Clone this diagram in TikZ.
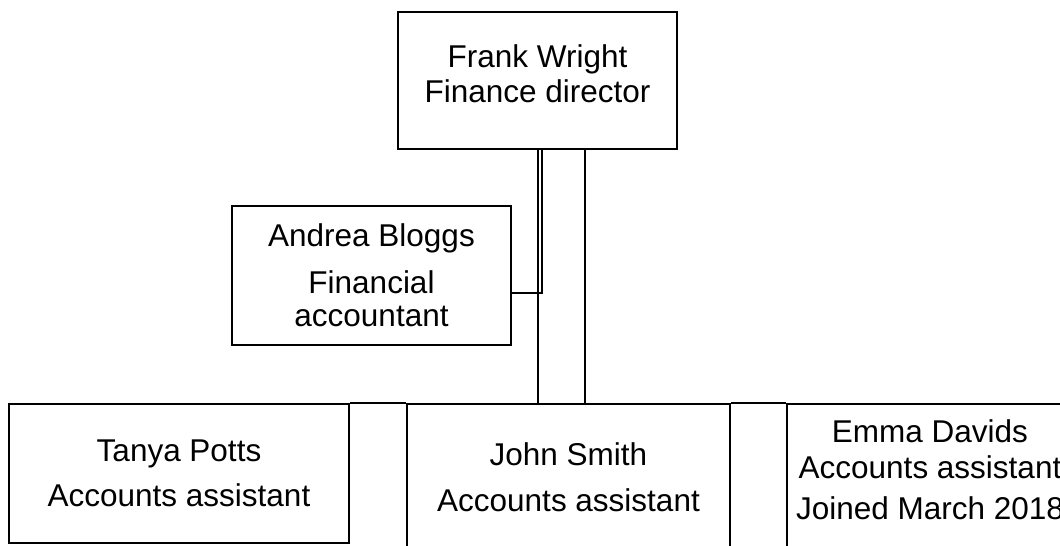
\documentclass[tikz,border=0pt]{standalone}
\usepackage{fontspec}
\setmainfont{Liberation Sans}

\begin{document}
\begin{tikzpicture}[x=0.5pt, y=-0.5pt,
        person/.style={draw, line width=1pt, inner sep=0pt, align=center,
            font=\fontsize{15.75}{17.5}\selectfont},
        link/.style={line width=1pt}]
        \clip (0, 0) rectangle (1060, 546);

        \node[person, minimum width=139.5pt, minimum height=68.5pt, text depth=7.3pt] (F) at (537.5, 80.5) {Frank Wright\\Finance director};
        \node[person, minimum width=139.5pt, minimum height=69.5pt] (A) at (371.5, 275.5) {Andrea Bloggs\\[6pt]Financial\\[-1pt]accountant};

        \node[person, minimum width=170pt, minimum height=69.5pt] (T) at (179, 473.5) {Tanya Potts\\[5pt]Accounts assistant};
        \node[person, minimum width=161.5pt, minimum height=73.5pt] (J) at (568.5, 477.5) {John Smith\\[5.5pt]Accounts assistant};
        \node[person, minimum width=143pt, minimum height=108pt, text depth=42pt] (E) at (930, 512) {Emma Davids\\[0.5pt]Accounts assistant\\[3pt]Joined March 2018};

        \coordinate (FA) at (542, 293);
        \coordinate (JL) at (538, 0);
        \coordinate (JR) at (585, 0);

        \draw[link] (F.south -| FA) to (FA) to (FA -| A.east);
        \draw[link] (F.south -| JL) to (J.north -| JL);
        \draw[link] (F.south -| JR) to (J.north -| JR);
        \draw[link] (T.north east) to (J.north west);
        \draw[link] (J.north east) to (E.north west);
    \end{tikzpicture}
\end{document}
